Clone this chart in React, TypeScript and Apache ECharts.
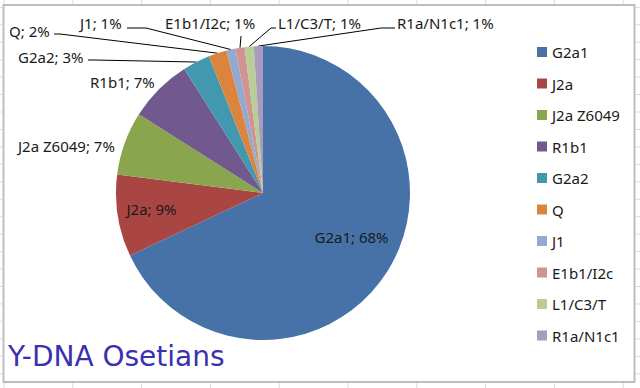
import React, { useEffect, useRef } from "react";
import * as echarts from "echarts";

const categories = ["G2a1", "J2a", "J2a Z6049", "R1b1", "G2a2", "Q", "J1", "E1b1/I2c", "L1/C3/T", "R1a/N1c1"];
const values = [68, 9, 7, 7, 3, 2, 1, 1, 1, 1];
const colors = ["#4672a8", "#a94644", "#89a54e", "#71588f", "#4198af", "#db843d", "#93a9cf", "#d19392", "#b9cd96", "#a99bbd"];
const titleText = "Y-DNA Osetians";

type LL = { x: number; y: number; align: string; end?: number[]; elbow?: number[] };
// label placement (layout, not data)
const LABEL_LAYOUT: LL[] = [
  { x: 351.5, y: 237, align: "center" },
  { x: 151.5, y: 209, align: "center" },
  { x: 18, y: 146, align: "left" },
  { x: 90, y: 82, align: "left" },
  { x: 18, y: 57, align: "left", end: [88, 60], elbow: [94, 60] },
  { x: 9, y: 31, align: "left", end: [54, 34], elbow: [60, 34] },
  { x: 80, y: 23, align: "left", end: [127, 28], elbow: [146, 28] },
  { x: 165, y: 23, align: "left", end: [241, 36] },
  { x: 278, y: 23, align: "left", end: [276, 28], elbow: [271, 28] },
  { x: 397, y: 23, align: "left", end: [395, 28], elbow: [381, 28] },
];

const INSIDE = new Set([0, 1]);
const NO_LINE = new Set([0, 1, 2, 3]);

export default function App() {
  const ref = useRef<HTMLDivElement>(null);
  useEffect(() => {
    if (!ref.current) return;
    const chart = echarts.init(ref.current, null, { renderer: "svg" });

    const grid: any[] = [];
    const gc = "#dadada";
    for (let k = 0; k < 10; k++) {
      const x = 4 + 68.8 * k;
      grid.push({ type: "line", shape: { x1: x, y1: 0, x2: x, y2: 4 }, style: { stroke: gc, lineWidth: 1 }, silent: true });
      grid.push({ type: "line", shape: { x1: x, y1: 383, x2: x, y2: 388 }, style: { stroke: gc, lineWidth: 1 }, silent: true });
    }
    for (let k = 0; k < 23; k++) {
      const y = 7.3 + 17.45 * k;
      grid.push({ type: "line", shape: { x1: 635, y1: y, x2: 640, y2: y }, style: { stroke: gc, lineWidth: 1 }, silent: true });
      grid.push({ type: "line", shape: { x1: 0, y1: y, x2: 2, y2: y }, style: { stroke: gc, lineWidth: 1 }, silent: true });
    }

    const data = categories.map((name, i) => ({
      name,
      value: values[i],
      itemStyle: { color: colors[i] },
      label: { position: INSIDE.has(i) ? "inside" : "outside" },
      labelLine: { show: !NO_LINE.has(i) },
    }));

    chart.setOption({
      animation: false,
      backgroundColor: "#ffffff",
      graphic: [
        ...grid,
        {
          type: "rect",
          shape: { x: 3.5, y: 5, width: 631, height: 377 },
          style: { fill: "#ffffff", stroke: "#bdbdbd", lineWidth: 2 },
          silent: true,
          z: -10,
        },
        {
          type: "text",
          x: 8,
          y: 356,
          style: {
            text: titleText,
            fontFamily: "DejaVu Sans",
            fontSize: 28,
            fill: "#3a30b0",
            align: "left",
            verticalAlign: "middle",
          },
          z: 10,
        },
      ],
      legend: {
        orient: "vertical",
        left: 532,
        top: 39,
        itemWidth: 10,
        itemHeight: 10,
        itemGap: 15.5,
        icon: "rect",
        selectedMode: false,
        textStyle: { fontFamily: "Noto Sans", fontSize: 15, color: "#1a1a1a", lineHeight: 16 },
        data: categories,
      },
      series: [
        {
          type: "pie",
          center: [263, 193],
          radius: 147,
          startAngle: 90,
          clockwise: true,
          avoidLabelOverlap: false,
          itemStyle: { borderWidth: 0 },
          emphasis: { disabled: true },
          label: {
            show: true,
            formatter: (p: any) => `${p.name}; ${p.value}%`,
            fontFamily: "Noto Sans",
            fontSize: 15,
            color: "#1a1a1a",
          },
          labelLine: { show: true, lineStyle: { color: "#000000", width: 1 }, length: 10, length2: 10 },
          labelLayout: (params: any) => {
            const i = params.dataIndex;
            const L = LABEL_LAYOUT[i];
            const out: any = { x: L.x, y: L.y, align: L.align, verticalAlign: "middle" };
            if (L.end && params.labelLinePoints && params.labelLinePoints[0]) {
              const p0 = params.labelLinePoints[0];
              out.labelLinePoints = L.elbow ? [p0, L.elbow, L.end] : [p0, L.end, L.end];
            }
            return out;
          },
          data,
        },
      ],
    });
    return () => chart.dispose();
  }, []);
  return <div ref={ref} style={{ position: "fixed", left: 0, top: 0, width: 640, height: 388 }} />;
}
